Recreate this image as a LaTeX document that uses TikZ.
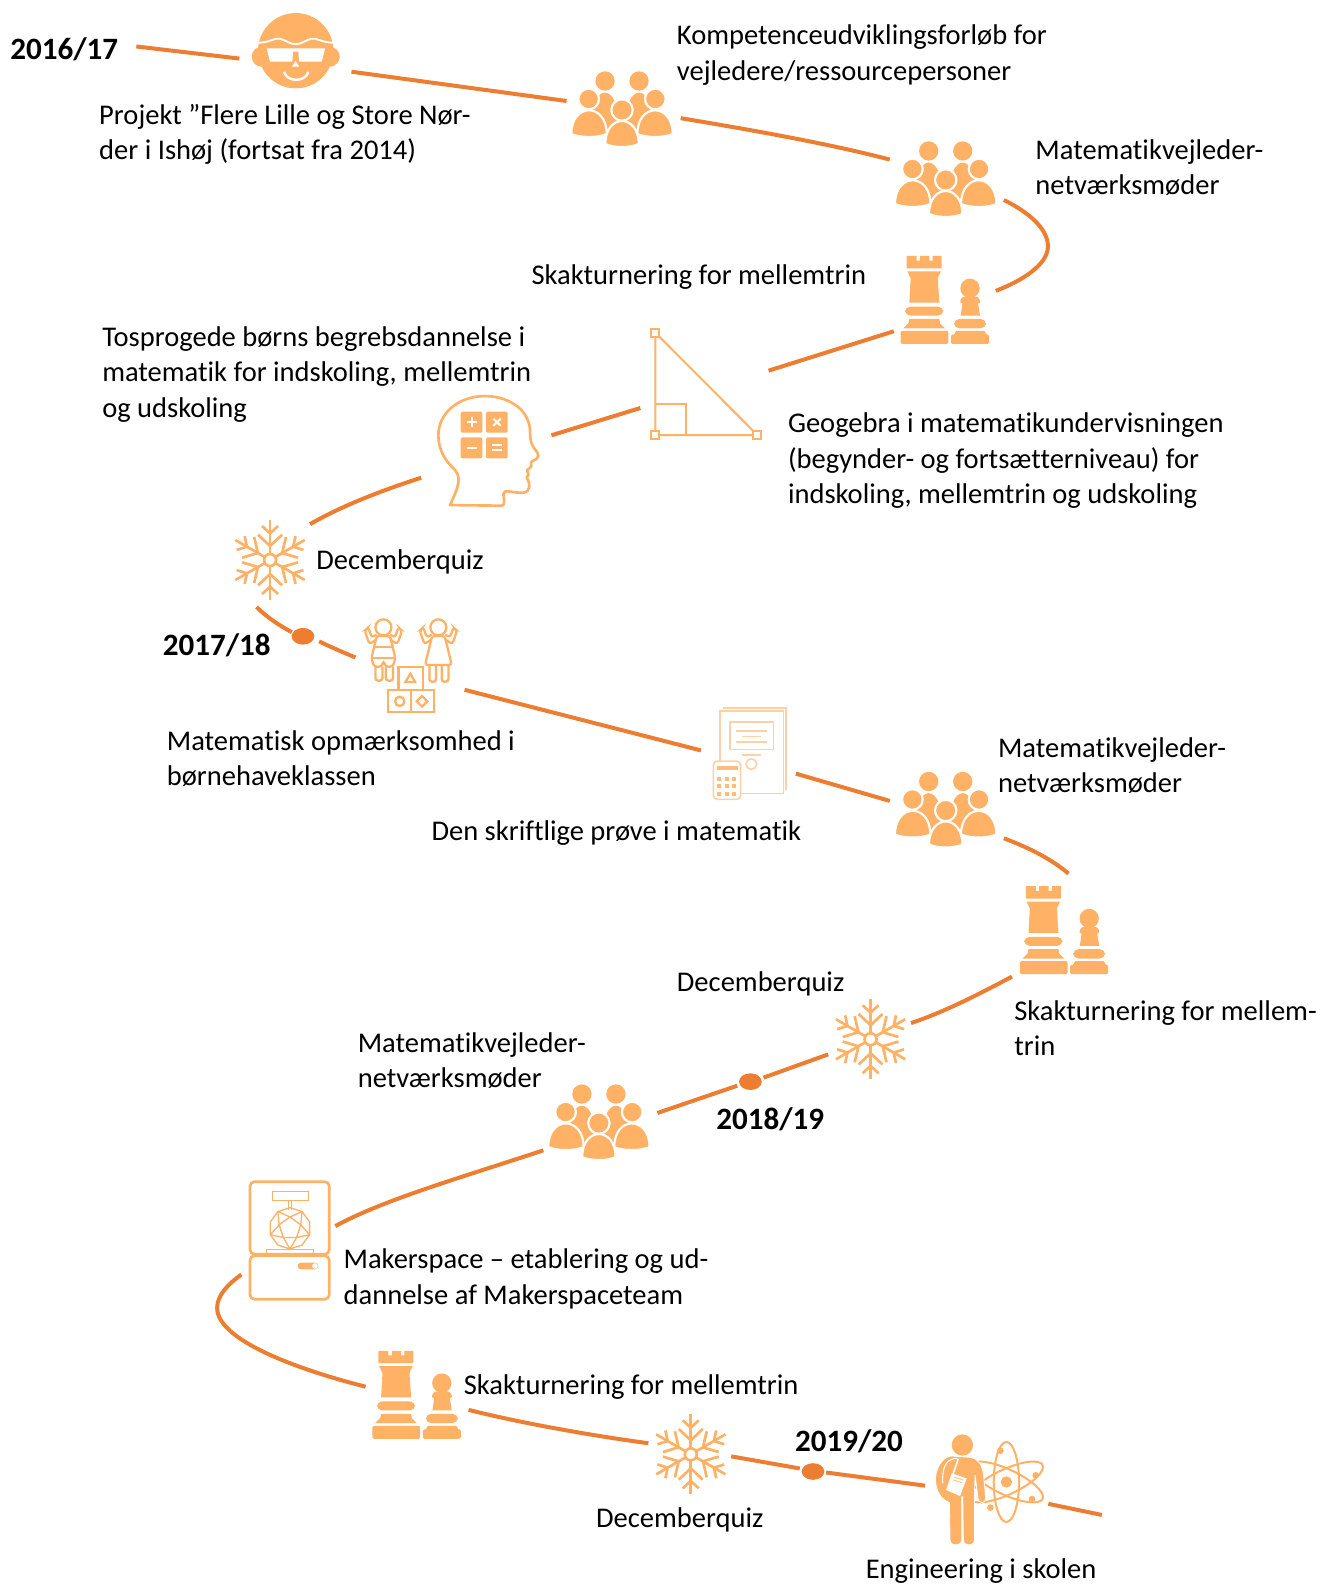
\documentclass[tikz,border=0pt]{standalone}
\usepackage{fontspec}
\setmainfont{Carlito}[Ligatures={NoCommon}]
\usetikzlibrary{shapes.geometric}
\definecolor{road}{HTML}{ED7D31}
\definecolor{icon}{HTML}{FFB266}
\definecolor{pale}{HTML}{FFCFA6}
\newcommand{\domefill}[5]{% options, cx, top, halfwidth, bottom
  \pgfmathsetmacro\dA{#2-(#4)}\pgfmathsetmacro\dB{#2+(#4)}\pgfmathsetmacro\dC{#5-10}
  \pgfmathsetmacro\dD{\dC+(#3-\dC)/0.75}\pgfmathsetmacro\dE{#2-(#4)*0.5}\pgfmathsetmacro\dF{#2+(#4)*0.5}
  \pgfmathsetmacro\dG{#5+2}
  \filldraw[#1] (\dA,\dC) .. controls (\dA,\dD) and (\dB,\dD) .. (\dB,\dC) .. controls (\dF,\dG) and (\dE,\dG) .. cycle;}
\tikzset{
  x=0.7575pt,y=-0.7575pt,
  roadline/.style={draw=road,line width=3pt},
  txt/.style={anchor=west,align=left,inner sep=0pt,yshift=-2pt,font=\fontsize{21.4}{26.6}\selectfont,text=black},
  year/.style={txt,yshift=0pt,font=\fontsize{23.3}{26.6}\selectfont\bfseries},
  dotmark/.style={ellipse,fill=road,minimum width=17pt,minimum height=12.5pt,inner sep=0pt},
  zoomunits/.style={x=0.25pt,y=-0.25pt},
  ringfill/.style={fill=icon,draw=white,line width=1.6pt},
  plainfill/.style={fill=icon,draw=none},
  people/.pic={\begin{scope}[zoomunits]
    \foreach \s in {-1,1}{
      \domefill{plainfill}{\s*51}{-52}{42}{60}
      \fill[icon] (\s*51,-87) circle (29);}
    \foreach \s in {-1,1}{
      \filldraw[ringfill] (\s*100,-33) circle (31);
      \domefill{ringfill}{\s*99}{1}{53}{82}}
    \filldraw[ringfill] (0,0) circle (32);
    \domefill{ringfill}{0}{33}{50}{112}
  \end{scope}},
  chess/.pic={\begin{scope}[zoomunits,shift={(-205,-510)}]
    \fill[icon] (80,378)--(110,378)--(110,392)--(120,392)--(120,378)--(148,378)--(148,392)--(158,392)--(158,378)--(185,378)--(185,415)--(80,415)--cycle;
    \fill[icon] (82,424)--(183,424)--(173,445)--(178,518)--(88,518)--(92,445)--cycle;
    \fill[icon,rounded corners=4pt] (75,530) rectangle (190,557);
    \fill[icon] (88,567)--(178,567)--(180,580)--(195,595)--(70,595)--(85,580)--cycle;
    \fill[icon,rounded corners=1pt] (62,603) rectangle (205,642);
    \fill[icon] (270,475) circle (29);
    \fill[icon,rounded corners=2pt] (238,520)--(246,500)--(295,500)--(303,520)--cycle;
    \fill[icon] (248,515)--(293,515)--(300,557)--(242,557)--cycle;
    \fill[icon,rounded corners=4pt] (222,567) rectangle (318,595);
    \fill[icon,rounded corners=1pt] (225,603)--(317,603)--(317,614)--(327,614)--(327,642)--(213,642)--(213,614)--(225,614)--cycle;
  \end{scope}},
  flake/.pic={\begin{scope}[zoomunits]
    \draw[icon,line width=2pt] (0,0) circle (18);
    \foreach \a in {0,60,...,300}{
      \begin{scope}[rotate=\a]
        \draw[icon,line width=2pt] (0,-18)--(0,-120);
        \draw[icon,line width=2pt] (-36,-76)--(0,-42)--(36,-76);
        \draw[icon,line width=2pt] (-24,-102)--(0,-80)--(24,-102);
      \end{scope}}
  \end{scope}},
  nerd/.pic={\begin{scope}[zoomunits]
    \foreach \s in {-1,1}{\fill[icon] (\s*102,18) circle (30);}
    \fill[icon] (0,0) circle (113);
    \draw[white,line width=1.4pt] (-112,-24) .. controls (-80,-24) and (-60,-40) .. (-47,-36) .. controls (-30,-32) and (-15,-18) .. (0,-20) .. controls (15,-18) and (30,-32) .. (47,-36) .. controls (60,-40) and (80,-24) .. (112,-24);
    \fill[white] (-87,-7)--(88,-7)--(78,33)--(10,33)--(8,3)--(-8,3)--(-10,33)--(-77,33)--cycle;
    \fill[white] (0,31)--(11,48)--(-11,48)--cycle;
    \draw[white,line width=1.8pt] (-35,64) .. controls (-25,95) and (28,95) .. (38,64);
  \end{scope}},
  thead/.pic={\begin{scope}[zoomunits]
    \draw[icon,line width=2pt,line join=round,line cap=round] (90,555) -- (245,557) .. controls (258,557) and (250,530) .. (250,522) .. controls (250,505) and (280,520) .. (310,518) .. controls (332,515) and (332,490) .. (320,472) .. controls (335,462) and (310,450) .. (328,445) .. controls (342,438) and (325,428) .. (338,422) .. controls (360,415) and (358,402) .. (345,388) .. controls (335,375) and (330,365) .. (330,330) .. controls (325,260) and (255,228) .. (195,228) .. controls (115,228) and (55,280) .. (55,345) .. controls (55,400) and (85,430) .. (105,450) .. controls (125,475) and (115,500) .. (90,555) -- cycle;
    \foreach \p in {(122,275),(198,275),(122,352),(198,352)}{
      \fill[icon,rounded corners=1pt] \p rectangle ++(65,63);}
    \draw[white,line width=1.5pt] (140,306)--(170,306) (155,291)--(155,321);
    \draw[white,line width=1.5pt] (220,296)--(242,317) (242,296)--(220,317);
    \draw[white,line width=1.5pt] (140,383)--(170,383);
    \draw[white,line width=1.5pt] (216,376)--(246,376) (216,390)--(246,390);
    \begin{scope}[icon,line width=1.5pt]
      \draw[icon] (706,38)--(706,345)--(1012,345)--cycle;
      \draw[icon] (706,253)--(797,253)--(797,345);
      \foreach \p in {(706,38),(706,345),(1012,345)}{
        \filldraw[draw=icon,fill=white] \p +(-12,-12) rectangle +(12,12);}
    \end{scope}
  \end{scope}},
  kids/.pic={\begin{scope}[zoomunits,shift={(-150,-150)}]
    \begin{scope}[icon,line width=1.7pt,rounded corners=2pt]
      \draw[icon] (490,352) circle (24);
      \draw[icon] (470,388)--(448,402)--(434,362)--(445,352)--(455,382)--(470,374);
      \draw[icon] (510,388)--(532,402)--(546,362)--(535,352)--(525,382)--(510,374);
      \draw[icon] (470,378)--(510,378)--(526,445)--(518,470)--(497,470)--(490,452)--(485,470)--(462,470)--(454,445)--cycle;
      \draw[icon] (462,412)--(518,412) (454,445)--(526,445);
      \draw[icon] (466,470)--(466,512)--(487,512)--(487,470) (497,470)--(497,512)--(519,512)--(519,470);
      \draw[icon] (655,352) circle (24);
      \draw[icon] (635,388)--(613,402)--(599,362)--(610,352)--(620,382)--(635,374);
      \draw[icon] (675,388)--(697,402)--(711,362)--(700,352)--(690,382)--(675,374);
      \draw[icon] (636,378)--(674,378)--(695,465)--(615,465)--cycle;
      \draw[icon] (628,465)--(628,515)--(648,515)--(648,465) (665,465)--(665,515)--(685,515)--(685,465);
    \end{scope}
    \begin{scope}[line width=1.7pt]
      \draw[icon] (535,472) rectangle (608,540);
      \draw[icon] (503,540) rectangle (573,607);
      \draw[icon] (573,540) rectangle (642,607);
      \draw[icon] (571,491)--(556,516)--(585,516)--cycle;
      \draw[icon] (539,574) circle (14);
      \draw[icon] (606,558)--(622,574)--(606,590)--(590,574)--cycle;
    \end{scope}
  \end{scope}},
  paper/.pic={\begin{scope}[zoomunits,line width=1.2pt]
    \draw[pale] (98,38)--(288,38)--(288,285);
    \draw[pale] (90,47) rectangle (280,295);
    \draw[pale] (120,80) rectangle (250,163);
    \draw[pale] (138,107)--(232,107) (156,124)--(214,124) (138,141)--(232,141) (156,180)--(212,180);
    \draw[pale] (184,207) circle (16);
    \filldraw[draw=pale,fill=white,rounded corners=3pt] (70,198) rectangle (152,313);
    \fill[icon!85!white] (80,213) rectangle (143,225);
    \foreach \a in {88,110,132}{\foreach \b in {252,274,296}{
      \fill[icon!85!white] (\a-6,\b-6) rectangle +(12,12);}}
  \end{scope}},
  maker/.pic={\begin{scope}[zoomunits]
    \draw[icon,line width=2pt,rounded corners=3.5pt] (60,50) rectangle (298,268);
    \draw[icon,line width=2pt,rounded corners=3.5pt] (60,272) rectangle (298,403);
    \begin{scope}[line width=1pt]
      \draw[icon] (127,80) rectangle (236,106);
      \draw[icon] (176,106)--(176,135) (185,106)--(185,135);
      \draw[icon] (110,253) rectangle (250,267);
      \begin{scope}[shift={(180,190)}]
        \draw[icon] (18:62)--(54:62)--(90:62)--(126:62)--(162:62)--(198:62)--(234:62)--(270:62)--(306:62)--(342:62)--cycle;
        \draw[icon] (-90:34)--(-18:34)--(54:34)--(126:34)--(198:34)--cycle;
        \foreach \a in {-90,-18,54,126,198}{
          \draw[icon] (\a:34)--(\a+36:62) (\a:34)--(\a-36:62);}
      \end{scope}
    \end{scope}
    \fill[icon,rounded corners=2.4pt] (203,293) rectangle (265,313);
    \fill[white] (255,303) circle (8.5);
  \end{scope}},
  scientist/.pic={\begin{scope}[zoomunits]
    \begin{scope}[shift={(259,186)}]
      \foreach \r in {0,65,-65}{
        \draw[icon,line width=1.5pt,rotate=\r] (0,0) ellipse (38 and 120);}
      \fill[icon] (0,0) circle (17);
    \end{scope}
    \foreach \p in {(241,92),(347,166),(336,237),(211,263)}{\fill[icon] \p circle (10);}
    \fill[icon] (127,75) circle (32);
    \filldraw[fill=icon,draw=white,line width=.6pt] (95,108) -- (150,112) .. controls (175,115) and (185,135) .. (190,160) -- (197,235) .. controls (197,252) and (175,252) .. (174,235) -- (165,165) -- (163,225) -- (163,360) .. controls (163,380) and (130,380) .. (130,360) -- (128,230) -- (125,230) -- (125,360) .. controls (125,380) and (90,380) .. (90,360) -- (88,248) .. controls (50,235) and (35,180) .. (55,140) .. controls (65,120) and (80,108) .. (95,108) -- cycle;
    \draw[white,line width=.8pt] (112,115) .. controls (80,115) and (65,140) .. (68,190);
    \draw[white,line width=1.2pt] (115,116)--(98,165);
    \fill[white] (95,160)--(140,175)--(120,228)--(78,210)--cycle;
    \draw[icon!70!white,line width=.8pt] (103,172)--(130,180) (100,180)--(127,188);
  \end{scope}}
}
\begin{document}
\begin{tikzpicture}
\useasboundingbox (0,0) rectangle (1308,1568.4);
% icons
\pic (nerd) at (292.8,50.2) {nerd};
\pic (grpA) at (615.9,108.9) {people};
\pic (grpB) at (936.4,178.2) {people};
\pic (chessA) at (939,297) {chess};
\pic (headtri) at (415.9,316.9) {thead};
\pic (flakeA) at (267.4,554.5) {flake};
\pic (kids) at (267.4,554.5) {kids};
\pic (paper) at (683.2,688.2) {paper};
\pic (grpC) at (936.4,802.5) {people};
\pic (chessB) at (1057,921) {chess};
\pic (flakeB) at (862,1029) {flake};
\pic (grpD) at (593,1112) {people};
\pic (maker) at (227.7,1153.5) {maker};
\pic (chessC) at (416,1381) {chess};
\pic (flakeC) at (684,1440) {flake};
\pic (sci) at (911,1406) {scientist};
% texts
\node[year] (y1) at (10,46) {2016/17};
\node[txt] (t1) at (98,130.5) {Projekt ”Flere Lille og Store Nør-\\der i Ishøj (fortsat fra 2014)};
\node[txt] (t2) at (670,52) {Kompetenceudviklingsforløb for\\vejledere/ressourcepersoner};
\node[txt] (t3) at (1025,163.5) {Matematikvejleder-\\netværksmøder};
\node[txt] (t4) at (526,272) {Skakturnering for mellemtrin};
\node[txt] (t5) at (101,368) {Tosprogede børns begrebsdannelse i\\matematik for indskoling, mellemtrin\\og udskoling};
\node[txt] (t6) at (780,453.5) {Geogebra i matematikundervisningen\\(begynder- og fortsætterniveau) for\\indskoling, mellemtrin og udskoling};
\node[txt] (t7) at (313,554) {Decemberquiz};
\node[year] (y2) at (161,636) {2017/18};
\node[txt] (t8) at (165,748.5) {Matematisk opmærksomhed i\\børnehaveklassen};
\node[txt] (t9) at (427,822) {Den skriftlige prøve i matematik};
\node[txt] (t10) at (988,755.5) {Matematikvejleder-\\netværksmøder};
\node[txt] (t11) at (1004,1015.5) {Skakturnering for mellem-\\trin};
\node[txt] (t12) at (670,972) {Decemberquiz};
\node[txt] (t13) at (354,1047.5) {Matematikvejleder-\\netværksmøder};
\node[year] (y3) at (709,1106) {2018/19};
\node[txt] (t14) at (340,1263.5) {Makerspace – etablering og ud-\\dannelse af Makerspaceteam};
\node[txt] (t15) at (459,1370.5) {Skakturnering for mellemtrin};
\node[year] (y4) at (787,1424) {2019/20};
\node[txt] (t16) at (590,1502) {Decemberquiz};
\node[txt] (t17) at (857,1553) {Engineering i skolen};
% year dots
\node[dotmark] (dotA) at (300,630) {};
\node[dotmark] (dotB) at (743,1071) {};
\node[dotmark] (dotC) at (805,1457) {};
% connector ports
\coordinate (a0) at (135,46); \coordinate (a1) at (237,58);
\coordinate (b0) at (348,71); \coordinate (b1) at (561,100);
\coordinate (c0) at (674,117); \coordinate (c1) at (881,158);
\coordinate (d0) at (994,198); \coordinate (d1) at (1037.6,244); \coordinate (d2) at (986,288);
\coordinate (e0) at (885,328); \coordinate (e1) at (761,367);
\coordinate (f0) at (634,404); \coordinate (f1) at (546,431);
\coordinate (g0) at (417,473); \coordinate (g1) at (307,519);
\coordinate (h0) at (254,601); \coordinate (h1) at (289,626);
\coordinate (i0) at (316,635); \coordinate (i1) at (352,651);
\coordinate (j0) at (460,683); \coordinate (j1) at (694,743);
\coordinate (k0) at (788,766); \coordinate (k1) at (881,793);
\coordinate (l0) at (994,830); \coordinate (l1) at (1058,865);
\coordinate (m0) at (1002,967); \coordinate (m1) at (902,1013);
\coordinate (n0) at (820,1044); \coordinate (n1) at (756,1067);
\coordinate (o0) at (730,1075); \coordinate (o1) at (651,1102);
\coordinate (p0) at (538,1139); \coordinate (p1) at (332,1214);
\coordinate (q0) at (239,1262); \coordinate (q1) at (215,1295); \coordinate (q2) at (362,1373);
\coordinate (r0) at (464,1396); \coordinate (r1) at (642,1429);
\coordinate (s0) at (724,1442); \coordinate (s1) at (792,1454);
\coordinate (u0) at (818,1458); \coordinate (u1) at (916,1471);
\coordinate (v0) at (1038,1489); \coordinate (v1) at (1091,1500);
% road
\draw[roadline] (a0) -- (a1);
\draw[roadline] (b0) -- (b1);
\draw[roadline] (c0) .. controls (740,128) and (820,142) .. (c1);
\draw[roadline] (d0) .. controls (1018,210) and (1037.6,226) .. (d1) .. controls (1037.6,262) and (1012,278) .. (d2);
\draw[roadline] (e0) -- (e1);
\draw[roadline] (f0) -- (f1);
\draw[roadline] (g0) .. controls (380,485) and (340,500) .. (g1);
\draw[roadline] (h0) .. controls (265,612) and (278,620) .. (h1);
\draw[roadline] (i0) .. controls (328,641) and (340,646) .. (i1);
\draw[roadline] (j0) -- (j1);
\draw[roadline] (k0) -- (k1);
\draw[roadline] (l0) .. controls (1020,840) and (1040,850) .. (l1);
\draw[roadline] (m0) .. controls (968,985) and (935,1002) .. (m1);
\draw[roadline] (n0) -- (n1);
\draw[roadline] (o0) -- (o1);
\draw[roadline] (p0) .. controls (450,1168) and (380,1188) .. (p1);
\draw[roadline] (q0) .. controls (225,1272) and (215,1283) .. (q1) .. controls (215,1330) and (310,1360) .. (q2);
\draw[roadline] (r0) .. controls (520,1410) and (590,1422) .. (r1);
\draw[roadline] (s0) -- (s1);
\draw[roadline] (u0) -- (u1);
\draw[roadline] (v0) -- (v1);
\end{tikzpicture}
\end{document}
